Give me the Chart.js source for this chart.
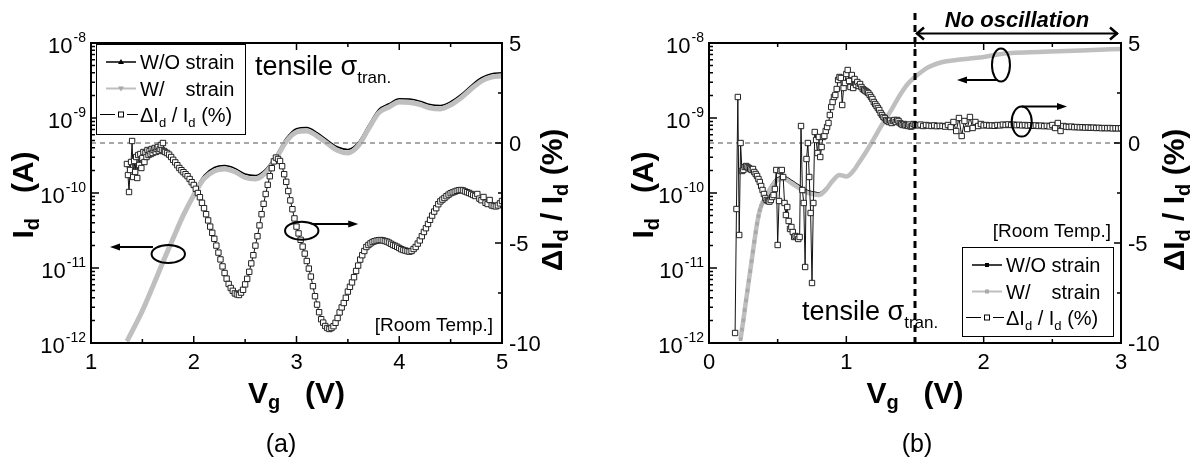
<!DOCTYPE html>
<html>
<head>
<meta charset="utf-8">
<script src="https://cdn.jsdelivr.net/npm/chart.js@4.4.0/dist/chart.umd.min.js"></script>
<style>
  html, body { margin: 0; padding: 0; background: #fff; }
  body { width: 1195px; height: 464px; position: relative; overflow: hidden; }
  canvas { position: absolute; top: 0; }
  #chartA { left: 0; }
  #chartB { left: 597px; }
</style>
</head>
<body>
<canvas id="chartA" width="597" height="464"></canvas>
<canvas id="chartB" width="598" height="464"></canvas>
<script>
// ---- panel (a): Id (A) ----
const vgIdA = [1.35, 1.4, 1.5, 1.6, 1.7, 1.8, 1.9, 2.0, 2.1, 2.2, 2.3, 2.4, 2.5, 2.6, 2.7, 2.8, 2.9, 3.0, 3.1,
  3.2, 3.3, 3.4, 3.5, 3.6, 3.7, 3.8, 3.9, 4.0, 4.1, 4.2, 4.3, 4.4, 4.5, 4.6, 4.7, 4.8, 4.9, 5.0];
const idWoA = [1.06e-12, 1.43e-12, 2.69e-12, 5.6e-12, 1.2e-11, 2.5e-11, 5.1e-11, 1.01e-10, 1.71e-10, 2.19e-10,
  2.32e-10, 2.13e-10, 1.79e-10, 1.71e-10, 2.07e-10, 3.18e-10, 5.36e-10, 7.2e-10, 7.45e-10, 6.38e-10, 5.07e-10,
  4.1e-10, 3.79e-10, 4.7e-10, 7.9e-10, 1.3e-9, 1.55e-9, 1.81e-9, 1.79e-9, 1.68e-9, 1.51e-9, 1.47e-9, 1.65e-9,
  2.05e-9, 2.7e-9, 3.44e-9, 3.9e-9, 4.02e-9];
const idWA = [1.06e-12, 1.43e-12, 2.69e-12, 5.6e-12, 1.2e-11, 2.5e-11, 5.1e-11, 9.35e-11, 1.55e-10, 1.97e-10,
  2.09e-10, 1.92e-10, 1.61e-10, 1.54e-10, 1.87e-10, 2.88e-10, 4.86e-10, 6.5e-10, 6.71e-10, 5.75e-10, 4.57e-10,
  3.69e-10, 3.41e-10, 4.24e-10, 7.13e-10, 1.17e-9, 1.40e-9, 1.63e-9, 1.61e-9, 1.51e-9, 1.36e-9, 1.32e-9, 1.49e-9,
  1.85e-9, 2.44e-9, 3.11e-9, 3.52e-9, 3.63e-9];

// ---- panel (a): dId/Id (%), noisy start (0.01 V sweep) then 0.02 V sweep ----
const dNoiseStartA = 1.35, dNoiseStepA = 0.01;
const dNoiseA = [-1.05, -1.6, -2.45, -1.35, -0.95, 0.1, -1.7, -0.9, -1.45, -0.7, -1.75, -0.6, -1.1, -0.55, -1.25,
  -0.75, -0.45, -0.95, -0.5, -0.7, -0.35, -0.6, -0.4, -0.55, -0.3, -0.5, -0.35, -0.25, -0.45, -0.3, -0.2, -0.4,
  -0.3, -0.1, -0.35, 0.0, -0.4];
const dSweepStartA = 1.72, dSweepStepA = 0.02;
const dSweepA = [-0.45, -0.5, -0.58, -0.7, -0.84, -0.97, -1.11, -1.25, -1.36, -1.46, -1.56, -1.66, -1.8, -1.96,
  -2.1, -2.29, -2.5, -2.71, -2.99, -3.26, -3.56, -3.87, -4.18, -4.49, -4.79, -5.13, -5.48, -5.82, -6.17, -6.5,
  -6.78, -7.05, -7.25, -7.39, -7.52, -7.57, -7.6, -7.48, -7.34, -7.07, -6.79, -6.44, -6.02, -5.61, -5.13, -4.66,
  -4.12, -3.56, -3.04, -2.55, -2.09, -1.66, -1.26, -0.92, -0.73, -0.8, -0.9, -1.16, -1.56, -1.94, -2.4, -2.87,
  -3.31, -3.77, -4.18, -4.52, -4.84, -5.18, -5.53, -5.9, -6.28, -6.68, -7.16, -7.66, -8.08, -8.46, -8.81, -8.98,
  -9.15, -9.25, -9.3, -9.25, -9.16, -8.99, -8.75, -8.47, -8.22, -8.0, -7.74, -7.43, -7.19, -6.97, -6.71, -6.4,
  -6.13, -5.83, -5.61, -5.4, -5.2, -5.1, -5.02, -4.95, -4.91, -4.88, -4.86, -4.85, -4.87, -4.9, -4.93, -4.98,
  -5.04, -5.1, -5.14, -5.19, -5.25, -5.31, -5.35, -5.38, -5.41, -5.43, -5.4, -5.3, -5.2, -5.03, -4.87, -4.66,
  -4.45, -4.26, -4.05, -3.84, -3.63, -3.43, -3.26, -3.06, -2.92, -2.83, -2.75, -2.66, -2.58, -2.51, -2.47, -2.43,
  -2.39, -2.36, -2.35, -2.37, -2.42, -2.46, -2.5, -2.55, -2.6, -2.65, -2.55, -2.78, -2.86, -2.7, -2.99, -3.05,
  -2.85, -3.12, -3.15, -3.17, -3.12, -3.02, -2.9];

// ---- panel (b): Id (A) ----
const vgIdB = [0.23, 0.24, 0.25, 0.26, 0.27, 0.28, 0.29, 0.30, 0.31, 0.32, 0.33, 0.34, 0.35, 0.36, 0.37, 0.38,
  0.39, 0.40, 0.45, 0.50, 0.55, 0.60, 0.65, 0.70, 0.75, 0.80, 0.85, 0.90, 0.95, 1.00, 1.05, 1.10, 1.15, 1.20,
  1.25, 1.30, 1.35, 1.40, 1.45, 1.50, 1.55, 1.60, 1.70, 1.80, 1.90, 2.00, 2.10, 2.20, 2.40, 2.60, 2.80, 3.00];
const idWoB = [1.12e-12, 1.51e-12, 2.0e-12, 2.75e-12, 3.7e-12, 5.0e-12, 6.8e-12, 9.1e-12, 1.23e-11, 1.66e-11,
  2.24e-11, 3.0e-11, 3.9e-11, 4.9e-11, 5.9e-11, 6.7e-11, 7.4e-11, 8.0e-11, 1.25e-10, 1.6e-10, 1.66e-10, 1.47e-10,
  1.28e-10, 1.12e-10, 1.04e-10, 1.0e-10, 1.16e-10, 1.45e-10, 1.74e-10, 1.66e-10, 1.96e-10, 2.67e-10, 3.69e-10,
  5.25e-10, 7.6e-10, 1.06e-9, 1.51e-9, 2.15e-9, 2.88e-9, 3.52e-9, 4.17e-9, 4.79e-9, 5.58e-9, 5.93e-9, 6.21e-9,
  6.5e-9, 7.03e-9, 7.36e-9, 7.59e-9, 7.82e-9, 8.07e-9, 8.32e-9];
const idWB = [1.12e-12, 1.51e-12, 2.0e-12, 2.75e-12, 3.7e-12, 5.0e-12, 6.8e-12, 9.1e-12, 1.23e-11, 1.66e-11,
  2.24e-11, 3.0e-11, 3.9e-11, 4.9e-11, 5.9e-11, 6.7e-11, 7.4e-11, 8.0e-11, 1.17e-10, 1.49e-10, 1.54e-10, 1.36e-10,
  1.18e-10, 1.04e-10, 9.7e-11, 9.4e-11, 1.1e-10, 1.45e-10, 1.74e-10, 1.66e-10, 1.96e-10, 2.67e-10, 3.69e-10,
  5.25e-10, 7.6e-10, 1.06e-9, 1.51e-9, 2.15e-9, 2.88e-9, 3.52e-9, 4.17e-9, 4.79e-9, 5.58e-9, 5.93e-9, 6.21e-9,
  6.5e-9, 7.03e-9, 7.36e-9, 7.59e-9, 7.82e-9, 8.07e-9, 8.32e-9];

// ---- panel (b): dId/Id (%) ----
const dNoiseStartB = 0.19, dNoiseStepB = 0.01;
const dNoiseB = [-9.5, -3.3, 2.3, -4.6, 0.0, -1.4, -1.35, -1.2, -1.15, -1.2, -1.25, -1.3, -1.35, -1.3, -1.45,
  -1.55, -1.65, -1.8, -1.95, -2.15, -2.35, -2.55, -2.75, -2.85, -2.9, -2.93, -2.85, -2.7, -2.6, -2.3, -1.35, -5.1,
  -2.9, -1.4, -1.35, -1.7, -3.0, -3.6, -3.2, -3.9, -4.3, -4.2, -4.45, -4.7, -4.65, -4.7, -4.8, -4.7, 0.85, -2.35,
  -3.0, -6.2, -0.8, 0.0, -1.7, -3.5, -7.0, -3.0, 0.55, 0.15, -0.5, 0.3, -0.7, -0.2, 0.3, 0.35, 0.6, 0.8, 1.0,
  1.4, 1.8, 2.05, 2.3, 2.4, 2.7, 3.15, 3.3, 3.25, 1.9, 2.75, 3.0, 3.45, 3.65, 3.1, 2.8, 3.4, 2.75, 3.2, 2.9,
  3.05, 2.85, 2.95, 2.8, 2.7, 2.65, 2.6, 2.55, 2.5, 2.4, 2.3, 2.2, 2.05, 1.95, 1.85, 1.75, 1.65, 1.5, 1.4, 1.3,
  1.25, 1.15, 1.1, 1.05, 1.12, 1.0, 1.1, 1.15, 1.05, 1.15, 1.1, 1.0, 0.95, 0.9, 0.95, 0.88, 0.9, 0.85, 0.92,
  0.82, 0.85, 0.95, 0.9];
const dSweepStartB = 1.52, dSweepStepB = 0.02;
const dSweepB = [0.88, 0.92, 0.85, 0.9, 0.87, 0.85, 0.88, 0.84, 0.86, 0.85, 0.82, 0.9, 0.8, 1.05, 0.6, 1.25,
  0.35, 1.1, 0.7, 1.3, 0.75, 1.05, 0.85, 0.95, 0.88, 0.9, 0.87, 0.88, 0.86, 0.9, 0.88, 0.92, 0.9, 0.93, 0.9,
  0.92, 0.89, 0.91, 0.88, 0.9, 0.87, 0.89, 0.86, 0.88, 0.85, 0.87, 0.84, 0.86, 0.83, 0.9, 0.75, 1.0, 0.6, 0.85,
  0.82, 0.8, 0.82, 0.79, 0.8, 0.78, 0.79, 0.77, 0.78, 0.76, 0.77, 0.75, 0.76, 0.74, 0.75, 0.74, 0.75, 0.73,
  0.74, 0.73, 0.74];

// axis ticks
const idTicks = [1e-12, 1e-11, 1e-10, 1e-9, 1e-8];
const idTickExp = ['-12', '-11', '-10', '-9', '-8'];
const dTicks = [5, 0, -5, -10];
const vgTicksA = [1, 2, 3, 4, 5];
const vgTicksB = [0, 1, 2, 3];

const FONT = '"Liberation Sans", Arial, Helvetica, sans-serif';
const GRAY = '#bfbfbf';

function font(size, bold, italic) {
  return (italic ? 'italic ' : '') + (bold ? 'bold ' : '') + size + 'px ' + FONT;
}

function pairs(xs, ys) {
  return xs.map((x, i) => ({ x: x, y: ys[i] }));
}

function sweep(start, step, ys) {
  return ys.map((y, i) => ({ x: +(start + i * step).toFixed(3), y: y }));
}

// runs: [text, size, dy]
function runsWidth(ctx, runs, bold) {
  let w = 0;
  runs.forEach(r => { ctx.font = font(r[1], bold); w += ctx.measureText(r[0]).width; });
  return w;
}

function drawRuns(ctx, runs, x, y, bold) {
  let cx = x;
  runs.forEach(r => {
    ctx.font = font(r[1], bold);
    ctx.fillText(r[0], cx, y + (r[2] || 0));
    cx += ctx.measureText(r[0]).width;
  });
}

function drawRotated(ctx, runs, cx, cy, bold) {
  const w = runsWidth(ctx, runs, bold);
  ctx.save();
  ctx.translate(cx, cy);
  ctx.rotate(-Math.PI / 2);
  drawRuns(ctx, runs, -w / 2, 11, bold);
  ctx.restore();
}

function headFill(ctx, x, y, dir) {
  ctx.beginPath();
  ctx.moveTo(x, y);
  ctx.lineTo(x - dir * 10, y - 3.5);
  ctx.lineTo(x - dir * 10, y + 3.5);
  ctx.closePath();
  ctx.fill();
}

function drawLegend(ctx, L) {
  ctx.fillStyle = '#fff';
  ctx.fillRect(L.x, L.y, L.w, L.h);
  ctx.strokeStyle = '#000';
  ctx.lineWidth = 1;
  ctx.strokeRect(L.x + 0.5, L.y + 0.5, L.w, L.h);
  const rows = [L.y + 18, L.y + 44.5, L.y + 70.5];
  const lx0 = L.x + 10, lx1 = L.x + 40, mx = L.x + 25, tx = L.x + 44;

  // W/O strain
  ctx.strokeStyle = '#000'; ctx.lineWidth = 1.5;
  ctx.beginPath(); ctx.moveTo(lx0, rows[0]); ctx.lineTo(lx1, rows[0]); ctx.stroke();
  ctx.fillStyle = '#000';
  ctx.beginPath();
  if (L.marker === 'tri') {
    ctx.moveTo(mx, rows[0] - 3); ctx.lineTo(mx - 3, rows[0] + 2); ctx.lineTo(mx + 3, rows[0] + 2);
  } else {
    ctx.rect(mx - 2, rows[0] - 2, 4, 4);
  }
  ctx.fill();

  // W/ strain
  ctx.strokeStyle = GRAY; ctx.lineWidth = 2;
  ctx.beginPath(); ctx.moveTo(lx0, rows[1]); ctx.lineTo(lx1, rows[1]); ctx.stroke();
  ctx.fillStyle = '#aaa';
  ctx.beginPath();
  if (L.marker === 'tri') {
    ctx.moveTo(mx, rows[1] + 3); ctx.lineTo(mx - 3, rows[1] - 2); ctx.lineTo(mx + 3, rows[1] - 2);
  } else {
    ctx.rect(mx - 2, rows[1] - 2, 4, 4);
  }
  ctx.fill();

  // dId/Id
  ctx.strokeStyle = '#000'; ctx.lineWidth = 1;
  ctx.beginPath();
  ctx.moveTo(L.x + 4, rows[2]); ctx.lineTo(L.x + 19, rows[2]);
  ctx.moveTo(L.x + 31, rows[2]); ctx.lineTo(L.x + 42, rows[2]);
  ctx.stroke();
  ctx.fillStyle = '#fff';
  ctx.fillRect(mx - 3, rows[2] - 3, 6, 6);
  ctx.strokeRect(mx - 2.5, rows[2] - 2.5, 5, 5);

  ctx.fillStyle = '#000';
  ctx.font = font(20);
  ctx.fillText('W/O strain', tx, rows[0] + 7);
  const sx = tx + ctx.measureText('W/O ').width;
  ctx.fillText('W/', tx, rows[1] + 7);
  ctx.fillText('strain', sx, rows[1] + 7);
  drawRuns(ctx, [['\u0394I', 20], ['d', 13, 5], [' / I', 20], ['d', 13, 5], [' (%)', 20]], tx, rows[2] + 7);
}

function panelPlugin(p) {
  return {
    id: 'frame' + p.el,
    afterDraw(chart) {
      const ctx = chart.ctx;
      const a = chart.chartArea;
      const xs = chart.scales.x, yl = chart.scales.y, yr = chart.scales.y2;
      ctx.save();
      ctx.textAlign = 'left';
      ctx.textBaseline = 'alphabetic';

      // frame and inward ticks
      ctx.strokeStyle = '#000';
      ctx.lineWidth = 2;
      ctx.strokeRect(a.left, a.top, a.right - a.left, a.bottom - a.top);
      ctx.lineWidth = 1.5;
      ctx.beginPath();
      for (let v = p.xMin; v <= p.xMax + 1e-9; v += 0.5) {
        const px = xs.getPixelForValue(v);
        const len = Math.abs(v - Math.round(v)) < 1e-6 ? 7 : 4;
        ctx.moveTo(px, a.bottom); ctx.lineTo(px, a.bottom - len);
        ctx.moveTo(px, a.top); ctx.lineTo(px, a.top + len);
      }
      for (let e = -12; e <= -8; e++) {
        for (let m = 1; m <= (e === -8 ? 1 : 9); m++) {
          const py = yl.getPixelForValue(m * Math.pow(10, e));
          ctx.moveTo(a.left, py); ctx.lineTo(a.left + (m === 1 ? 8 : 4), py);
        }
      }
      for (let v = -10; v <= 5; v += 2.5) {
        const py = yr.getPixelForValue(v);
        ctx.moveTo(a.right, py); ctx.lineTo(a.right - (v % 5 === 0 ? 7 : 4), py);
      }
      ctx.stroke();

      // tick labels
      ctx.fillStyle = '#000';
      idTicks.forEach((v, i) => {
        const py = yl.getPixelForValue(v);
        ctx.font = font(22); const w1 = ctx.measureText('10').width;
        ctx.font = font(14); const w2 = ctx.measureText(idTickExp[i]).width;
        const x0 = a.left - 6 - w1 - w2;
        ctx.font = font(22); ctx.fillText('10', x0, py + 10);
        ctx.font = font(14); ctx.fillText(idTickExp[i], x0 + w1 + 1, py - 1);
      });
      ctx.font = font(22);
      dTicks.forEach(v => {
        ctx.fillText(String(v), a.right + 7, yr.getPixelForValue(v) + 8);
      });
      ctx.textAlign = 'center';
      p.xTicks.forEach(v => {
        ctx.fillText(String(v), xs.getPixelForValue(v), a.bottom + 26);
      });
      ctx.font = font(25);
      ctx.fillText(p.tag, p.tagX, 452);
      ctx.textAlign = 'left';

      // axis titles
      drawRotated(ctx, [['I', 30], ['d', 20, 6], ['   (A)', 30]], p.leftTitleX, 195, true);
      drawRotated(ctx, [['\u0394I', 30], ['d', 20, 6], [' / I', 30], ['d', 20, 6], [' (%)', 30]], p.rightTitleX, 200, true);
      const xt = [['V', 30], ['g', 20, 6], ['   (V)', 30]];
      const xw = runsWidth(ctx, xt, true);
      drawRuns(ctx, xt, (a.left + a.right) / 2 - xw / 2, 403, true);

      // in-plot notes
      drawRuns(ctx, [['tensile \u03c3', 27], ['tran.', 17, 8]], p.tensile.x, p.tensile.y);
      ctx.font = font(19);
      ctx.textAlign = 'right';
      ctx.fillText('[Room Temp.]', p.room.x, p.room.y);
      ctx.textAlign = 'left';

      // ellipses and arrows pointing to the axes
      ctx.strokeStyle = '#000';
      ctx.lineWidth = 2;
      p.ellipses.forEach(el => {
        ctx.beginPath();
        ctx.ellipse(xs.getPixelForValue(el.x), yr.getPixelForValue(el.y), el.rx, el.ry, 0, 0, Math.PI * 2);
        ctx.stroke();
      });
      p.arrows.forEach(ar => {
        const x0 = xs.getPixelForValue(ar.x0), x1 = xs.getPixelForValue(ar.x1), y = yr.getPixelForValue(ar.y);
        const dir = x1 > x0 ? 1 : -1;
        ctx.beginPath(); ctx.moveTo(x0, y); ctx.lineTo(x1 - dir * 6, y); ctx.stroke();
        headFill(ctx, x1, y, dir);
      });

      if (p.vline) {
        const vx = xs.getPixelForValue(p.vline.x);
        ctx.setLineDash([7, 5]);
        ctx.lineWidth = 3;
        ctx.beginPath(); ctx.moveTo(vx, p.vline.top); ctx.lineTo(vx, p.vline.bottom); ctx.stroke();
        ctx.setLineDash([]);
        const n = p.noOsc;
        const x0 = xs.getPixelForValue(n.x0) + 1, x1 = xs.getPixelForValue(n.x1);
        ctx.lineWidth = 2;
        ctx.beginPath(); ctx.moveTo(x0, n.y); ctx.lineTo(x1, n.y); ctx.stroke();
        ctx.lineWidth = 2.5;
        ctx.beginPath();
        ctx.moveTo(x0 + 8, n.y - 6); ctx.lineTo(x0 + 1, n.y); ctx.lineTo(x0 + 8, n.y + 6);
        ctx.moveTo(x1 - 8, n.y - 6); ctx.lineTo(x1 - 1, n.y); ctx.lineTo(x1 - 8, n.y + 6);
        ctx.stroke();
        ctx.font = font(22, true, true);
        ctx.textAlign = 'center';
        ctx.fillText('No oscillation', (x0 + x1) / 2, n.textY);
        ctx.textAlign = 'left';
      }

      drawLegend(ctx, p.legend);
      ctx.restore();
    }
  };
}

function buildChart(p, datasets) {
  return new Chart(document.getElementById(p.el), {
    type: 'line',
    data: { datasets: datasets },
    options: {
      responsive: false,
      animation: false,
      devicePixelRatio: 1,
      events: [],
      layout: {
        padding: { left: p.area.left, right: p.width - p.area.right, top: p.area.top, bottom: 464 - p.area.bottom }
      },
      plugins: { legend: { display: false }, tooltip: { enabled: false } },
      scales: {
        x: { type: 'linear', min: p.xMin, max: p.xMax, display: false },
        y: { type: 'logarithmic', min: 1e-12, max: 1e-8, display: false },
        y2: { type: 'linear', position: 'right', min: -10, max: 5, display: false }
      }
    },
    plugins: [panelPlugin(p)]
  });
}

function deltaSet(points) {
  return {
    data: points, yAxisID: 'y2', order: 0,
    borderColor: '#111', borderWidth: 1, tension: 0,
    pointStyle: 'rect', pointRadius: 3.8, pointBorderWidth: 1,
    pointBorderColor: '#222', pointBackgroundColor: '#fff'
  };
}

function zeroSet(xMin, xMax) {
  return {
    data: [{ x: xMin, y: 0 }, { x: xMax, y: 0 }], yAxisID: 'y2', order: 1,
    borderColor: '#8c8c8c', borderWidth: 1.5, borderDash: [5, 4], pointRadius: 0
  };
}

const panelA = {
  el: 'chartA', width: 597,
  area: { left: 91, right: 502, top: 43, bottom: 343 },
  xMin: 1, xMax: 5, xTicks: vgTicksA,
  tag: '(a)', tagX: 281,
  leftTitleX: 22, rightTitleX: 551,
  legend: { x: 96, y: 44, w: 149, h: 90, marker: 'tri' },
  tensile: { x: 255, y: 75 },
  room: { x: 493, y: 331 },
  ellipses: [{ x: 1.752, y: -5.55, rx: 16.7, ry: 9 }, { x: 3.051, y: -4.39, rx: 16.7, ry: 9 }],
  arrows: [{ x0: 1.603, x1: 1.185, y: -5.2 }, { x0: 3.148, x1: 3.601, y: -4.05 }]
};

const panelB = {
  el: 'chartB', width: 598,
  area: { left: 112, right: 524, top: 43, bottom: 343 },
  xMin: 0, xMax: 3, xTicks: vgTicksB,
  tag: '(b)', tagX: 320,
  leftTitleX: 45, rightTitleX: 576,
  legend: { x: 365, y: 247, w: 151, h: 89, marker: 'sq' },
  tensile: { x: 205, y: 320 },
  room: { x: 514, y: 237 },
  ellipses: [{ x: 2.126, y: 3.9, rx: 9, ry: 16.5 }, { x: 2.277, y: 1.07, rx: 10, ry: 15 }],
  arrows: [{ x0: 2.104, x1: 1.806, y: 3.15 }, { x0: 2.277, x1: 2.607, y: 1.83 }],
  vline: { x: 1.5, top: 13, bottom: 345 },
  noOsc: { x0: 1.5, x1: 2.978, y: 33.5, textY: 27 }
};

buildChart(panelA, [
  deltaSet(sweep(dNoiseStartA, dNoiseStepA, dNoiseA).concat(sweep(dSweepStartA, dSweepStepA, dSweepA))),
  zeroSet(1, 5),
  {
    data: pairs(vgIdA, idWA), yAxisID: 'y', order: 2,
    borderColor: GRAY, borderWidth: 5, pointRadius: 0, cubicInterpolationMode: 'monotone'
  },
  {
    data: pairs(vgIdA, idWoA), yAxisID: 'y', order: 3,
    borderColor: '#000', borderWidth: 1.5, pointRadius: 0, cubicInterpolationMode: 'monotone'
  }
]);

buildChart(panelB, [
  deltaSet(sweep(dNoiseStartB, dNoiseStepB, dNoiseB).concat(sweep(dSweepStartB, dSweepStepB, dSweepB))),
  zeroSet(0, 3),
  {
    data: pairs(vgIdB, idWB), yAxisID: 'y', order: 2,
    borderColor: GRAY, borderWidth: 4.5, cubicInterpolationMode: 'monotone',
    pointStyle: 'rect', pointBorderWidth: 0, pointBackgroundColor: '#a9a9a9',
    pointRadius: c => (c.raw && c.raw.x <= 0.4 ? 2.6 : 0)
  },
  {
    data: pairs(vgIdB, idWoB), yAxisID: 'y', order: 3,
    borderColor: '#000', borderWidth: 1.5, pointRadius: 0, cubicInterpolationMode: 'monotone'
  }
]);
</script>
</body>
</html>
